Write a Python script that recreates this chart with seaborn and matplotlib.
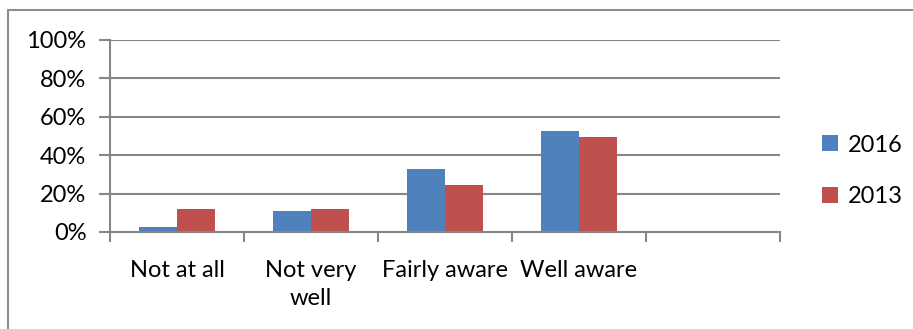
import matplotlib
matplotlib.use("Agg")
import matplotlib.pyplot as plt
from matplotlib.lines import Line2D
from matplotlib.patches import Patch
import seaborn as sns
import pandas as pd
import numpy as np

categories = ["Not at all", "Not very\nwell", "Fairly aware", "Well aware"]
years = ["2016", "2013"]
values_2016 = [0.024, 0.11, 0.33, 0.525]
values_2013 = [0.12, 0.12, 0.245, 0.497]
y_ticks = [0.0, 0.2, 0.4, 0.6, 0.8, 1.0]
y_tick_labels = ["0%", "20%", "40%", "60%", "80%", "100%"]
colors = {"2016": "#4F81BD", "2013": "#C0504D"}

df = pd.DataFrame({
    "category": categories * 2,
    "year": ["2016"] * len(categories) + ["2013"] * len(categories),
    "value": values_2016 + values_2013,
})

sns.set_theme(style="white")
plt.rcParams["font.family"] = ["Lato", "DejaVu Sans"]
plt.rcParams["text.color"] = "black"
plt.rcParams["xtick.color"] = "black"
plt.rcParams["ytick.color"] = "black"

W, H = 913, 329
fig = plt.figure(figsize=(W / 100, H / 100), dpi=100)
ax = fig.add_axes([110 / W, 1 - 232 / H, (780 - 110) / W, (232 - 40) / H])

grid_c = "#868686"
for y in y_ticks[1:]:
    ax.axhline(y, color=grid_c, lw=1.5, zorder=0)

sns.barplot(data=df, x="category", y="value", hue="year", order=categories,
            hue_order=years, palette=colors, width=0.57, saturation=1,
            ax=ax, legend=False, zorder=2, edgecolor="none")

ax.set_xlim(-0.5, 4.5)
ax.set_ylim(0, 1.0)
ax.set_xlabel("")
ax.set_ylabel("")

for side in ["top", "right"]:
    ax.spines[side].set_visible(False)
for side in ["left", "bottom"]:
    ax.spines[side].set_color(grid_c)
    ax.spines[side].set_linewidth(1.5)

ax.set_yticks(y_ticks)
ax.set_yticklabels(y_tick_labels)
ax.tick_params(axis="y", which="major", direction="out", length=8, width=1.5,
               color=grid_c, labelcolor="black", labelsize=17, pad=9, left=True)

ax.set_xticks(range(len(categories)))
ax.set_xticklabels(categories, linespacing=1.45)
ax.tick_params(axis="x", which="major", length=0, labelsize=17,
               labelcolor="black", pad=20)
ax.set_xticks(np.arange(-0.5, 4.6, 1.0), minor=True)
ax.tick_params(axis="x", which="minor", direction="out", length=7, width=1.5,
               color=grid_c, bottom=True)

handles = [Patch(facecolor=colors[y], edgecolor="none") for y in years]
fig.legend(handles, years, loc="center left", bbox_to_anchor=(801 / W, 1 - 171 / H),
           frameon=False, fontsize=17, handlelength=0.65, handleheight=0.65,
           handletextpad=0.45, labelspacing=1.3, labelcolor="black")

# outer chart frame
fig.add_artist(Line2D([8 / W, 1.0], [1 - 10 / H, 1 - 10 / H], transform=fig.transFigure,
                      color="#8C8C8C", lw=1.5))
fig.add_artist(Line2D([8 / W, 8 / W], [0.0, 1 - 10 / H], transform=fig.transFigure,
                      color="#8C8C8C", lw=1.5))

fig.savefig("out.png", dpi=100, facecolor="white")
